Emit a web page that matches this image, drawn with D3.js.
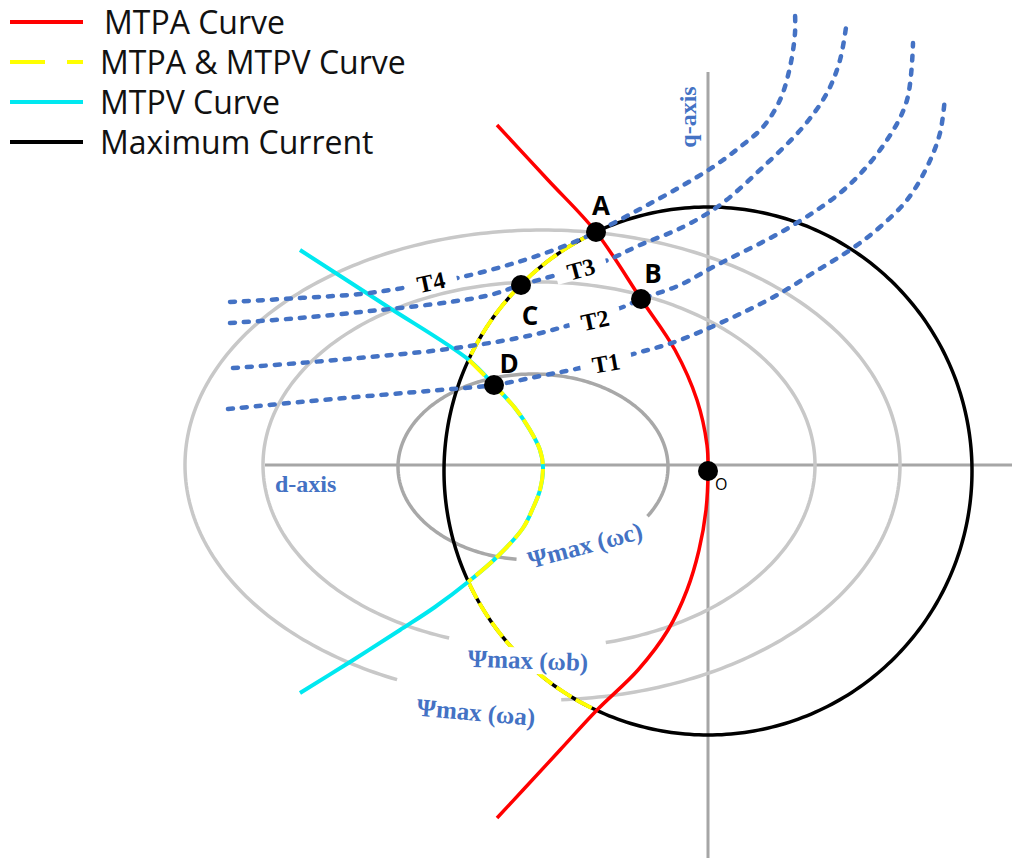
<!DOCTYPE html>
<html>
<head>
<meta charset="utf-8">
<script src="https://cdn.jsdelivr.net/npm/d3@7"></script>
<style>
  body { margin: 0; background: #fff; }
  svg { display: block; }
  .serif { font-family: "Liberation Serif", "DejaVu Serif", serif; font-weight: bold; }
  .sans { font-family: "Open Sans", "Noto Sans", sans-serif; }
</style>
</head>
<body>
<div id="chart"></div>
<script>
// ---- data (d/q current units, origin at O) ----

// maximum current circle
var maxCurrent = { cx: 0, cy: -3, r: 132 };

// voltage (flux) limit ellipses, arc from/to in degrees
var fluxNames = ["Ψmax (ωa)", "Ψmax (ωb)", "Ψmax (ωc)"];
var fluxCx = [-82.75, -84.5, -87.5];
var fluxCy = [0, 0, -1];
var fluxA = [178.75, 138, 67.5];
var fluxB = [117.5, 91.5, 46.5];
var fluxFrom = [-87, -76, -32];
var fluxTo = [246, 251, 263];

// parts of the max current circle that are MTPA & MTPV (degrees)
var sharedArcs = [[115, 155], [205, 245]];

var mtpa = [[-105.5, 170], [-80, 142.5], [-56, 116.5], [-33.5, 83], [-16.5, 57.5], [-5.5, 32.5],
  [-0.5, 10], [0, -3], [-1, -22.5], [-4.5, -42.5], [-10.5, -62.5], [-20, -82.5], [-35, -102.5],
  [-55.5, -122.5], [-74, -142.5], [-92.5, -162.5], [-105.5, -176.5]];

var mtpv = [[-204, 107.5], [-161.5, 80], [-119.5, 52.5], [-107, 40], [-96.5, 28.5], [-89, 17.5],
  [-84, 7.5], [-82.5, -1], [-84, -12.5], [-87.5, -21.5], [-92.5, -31.5], [-105.5, -46],
  [-120, -58.5], [-136.5, -71], [-154, -82.5], [-179, -98.5], [-204, -114]];
// index range of mtpv that lies inside the circle (shared with MTPA)
var mtpvShared = [2, 12];

// constant torque curves
var torqueNames = ["T1", "T2", "T3", "T4"];
var t1 = [[-240, 28], [-204, 31.5], [-164, 35], [-134, 37.5], [-107, 40], [-84, 44.5], [-64, 48.5],
  [-35.5, 56], [-14, 62.5], [30, 82.5], [52.5, 96], [72.5, 108.5], [86, 119], [99.5, 132.5],
  [109.5, 149], [116, 166], [118.5, 184]];
var t2 = [[-237.5, 48.5], [-204, 51], [-164, 54.5], [-134, 57.5], [-95, 63.5], [-72.5, 69],
  [-42.5, 79], [-33.5, 83], [-14, 90], [2.5, 99], [41, 119], [69.5, 139], [89.5, 162.5],
  [99.5, 182.5], [102.5, 211]];
var t3 = [[-239, 71], [-204, 73.5], [-164, 77.5], [-129, 81.5], [-109, 85], [-93.5, 90], [-77.5, 94.5],
  [-52.5, 101.5], [-34, 110], [-12.5, 119], [6, 130], [27.5, 149], [47.5, 169], [59.5, 186],
  [66, 202.5], [69.5, 222.5]];
var t4 = [[-239, 81.5], [-204, 83.5], [-174, 85.5], [-152.5, 88.5], [-123, 94], [-95, 101.5],
  [-70.5, 110], [-56, 116.5], [-34, 128], [-14, 139], [2.5, 149], [16, 159], [27.5, 169],
  [36, 182.5], [41, 199], [43.5, 216], [43.5, 226]];
var torque = [t1, t2, t3, t4];

// operating points
var pointNames = ["A", "B", "C", "D", "O"];
var pointId = [-56, -33.5, -93.5, -107, 0];
var pointIq = [116.5, 83, 90, 40, -3];

// axes extents
var dAxis = [-221.5, 152];
var qAxis = [196.5, -196.5];

var legendNames = ["MTPA Curve", "MTPA & MTPV Curve", "MTPV Curve", "Maximum Current"];

// ---- layout ----
var W = 1012, H = 860;
var red = "#ff0000", yellow = "#ffff00", cyan = "#00e8f0", blue = "#4472c4";

var x = d3.scaleLinear().domain([-354, 152]).range([0, W]);
var y = d3.scaleLinear().domain([232.5, -197.5]).range([0, H]);

var svg = d3.select("#chart").append("svg")
  .attr("width", W)
  .attr("height", H);

var smooth = d3.line()
  .x(function (d) { return x(d[0]); })
  .y(function (d) { return y(d[1]); })
  .curve(d3.curveCatmullRom.alpha(0.5));
var plain = d3.line()
  .x(function (d) { return x(d[0]); })
  .y(function (d) { return y(d[1]); });

function arcPts(cx, cy, a, b, t0, t1) {
  return d3.range(t0, t1 + 0.01, 1).map(function (t) {
    var r = t * Math.PI / 180;
    return [cx + a * Math.cos(r), cy + b * Math.sin(r)];
  });
}

// axes
svg.append("line")
  .attr("x1", x(dAxis[0])).attr("x2", x(dAxis[1]))
  .attr("y1", y(0)).attr("y2", y(0))
  .attr("stroke", "#a6a6a6").attr("stroke-width", 3);
svg.append("line")
  .attr("x1", x(0)).attr("x2", x(0))
  .attr("y1", y(qAxis[0])).attr("y2", y(qAxis[1]))
  .attr("stroke", "#a6a6a6").attr("stroke-width", 3);

// flux ellipses
fluxNames.forEach(function (n, i) {
  svg.append("path")
    .attr("d", plain(arcPts(fluxCx[i], fluxCy[i], fluxA[i], fluxB[i], fluxFrom[i], fluxTo[i])))
    .attr("fill", "none")
    .attr("stroke", i == 2 ? "#a8a8a8" : "#c8c8c8")
    .attr("stroke-width", 3.5);
});

// maximum current circle
svg.append("path")
  .attr("d", plain(arcPts(maxCurrent.cx, maxCurrent.cy, maxCurrent.r, maxCurrent.r, 0, 360)))
  .attr("fill", "none")
  .attr("stroke", "#000")
  .attr("stroke-width", 3.5);

sharedArcs.forEach(function (a) {
  svg.append("path")
    .attr("d", plain(arcPts(maxCurrent.cx, maxCurrent.cy, maxCurrent.r, maxCurrent.r, a[0], a[1])))
    .attr("fill", "none")
    .attr("stroke", yellow)
    .attr("stroke-width", 4)
    .attr("stroke-dasharray", "18,5");
});

// MTPA
svg.append("path")
  .attr("d", smooth(mtpa))
  .attr("fill", "none")
  .attr("stroke", red)
  .attr("stroke-width", 3.5);

// MTPV
svg.append("path")
  .attr("d", smooth(mtpv))
  .attr("fill", "none")
  .attr("stroke", cyan)
  .attr("stroke-width", 4);
svg.append("path")
  .attr("d", smooth(mtpv.slice(mtpvShared[0], mtpvShared[1] + 1)))
  .attr("fill", "none")
  .attr("stroke", yellow)
  .attr("stroke-width", 4)
  .attr("stroke-dasharray", "22,5");

// torque curves
torque.forEach(function (t) {
  svg.append("path")
    .attr("d", smooth(t))
    .attr("fill", "none")
    .attr("stroke", blue)
    .attr("stroke-width", 4.5)
    .attr("stroke-linecap", "round")
    .attr("stroke-dasharray", "5,9");
});

// labels with white boxes
function boxLabel(text, px, py, angle, size, color, padX, padY) {
  var g = svg.append("g")
    .attr("transform", "translate(" + px + "," + py + ") rotate(" + angle + ")");
  var rect = g.append("rect").attr("fill", "#fff");
  var t = g.append("text")
    .attr("class", "serif")
    .attr("text-anchor", "middle")
    .attr("dy", "0.35em")
    .style("font-size", size + "px")
    .attr("fill", color)
    .text(text);
  var bb = t.node().getBBox();
  rect.attr("x", bb.x - padX).attr("y", bb.y + padY)
    .attr("width", bb.width + 2 * padX).attr("height", bb.height - 2 * padY);
}

// torque label placement [id, iq, angle]
var torqueLabelPos = [[-51, 51, -10], [-56.5, 72.5, -12], [-63.5, 98, -15], [-138.5, 91.5, -12]];
torqueNames.forEach(function (n, i) {
  var p = torqueLabelPos[i];
  boxLabel(n, x(p[0]), y(p[1]), p[2], 24, "#000", 12, 4);
});

// flux label placement
var fluxLabelPos = [[-116, -123.5, 5], [-90, -97.5, 2], [-61.5, -40, -15]];
fluxNames.forEach(function (n, i) {
  var p = fluxLabelPos[i];
  boxLabel(n, x(p[0]), y(p[1]), p[2], 25, blue, 3, 1);
});

// axis labels
svg.append("text")
  .attr("class", "serif")
  .attr("x", x(-216.5))
  .attr("y", y(-13.5))
  .style("font-size", "24px")
  .attr("fill", blue)
  .text("d-axis");
svg.append("text")
  .attr("class", "serif")
  .attr("transform", "translate(" + (x(-10) + 8) + "," + y(174) + ") rotate(-90)")
  .attr("text-anchor", "middle")
  .style("font-size", "24px")
  .attr("fill", blue)
  .text("q-axis");

// operating points
var nudge = [[5, -17, "middle"], [12, -16, "middle"], [9, 40, "middle"], [15, -12, "middle"], [7, 19, "start"]];
pointNames.forEach(function (n, i) {
  var px = x(pointId[i]), py = y(pointIq[i]);
  svg.append("circle")
    .attr("cx", px).attr("cy", py).attr("r", 10)
    .attr("fill", "#000");
  svg.append("text")
    .attr("class", "sans")
    .attr("x", px + nudge[i][0])
    .attr("y", py + nudge[i][1])
    .attr("text-anchor", nudge[i][2])
    .style("font-size", n == "O" ? "16px" : "26px")
    .style("font-weight", n == "O" ? "normal" : "bold")
    .attr("fill", "#000")
    .text(n);
});

// legend
var legendColor = [red, yellow, cyan, "#000"];
var legend = svg.append("g").attr("class", "legend");
legendNames.forEach(function (n, i) {
  var ly = 22 + i * 40;
  legend.append("line")
    .attr("x1", 10).attr("x2", 83)
    .attr("y1", ly).attr("y2", ly)
    .attr("stroke", legendColor[i])
    .attr("stroke-width", 4)
    .attr("stroke-dasharray", i == 1 ? "35,22" : null);
  legend.append("text")
    .attr("class", "sans")
    .attr("x", i == 0 ? 104 : 100)
    .attr("y", ly + 12)
    .style("font-size", "32px")
    .attr("fill", "#111")
    .text(n);
});
</script>
</body>
</html>
